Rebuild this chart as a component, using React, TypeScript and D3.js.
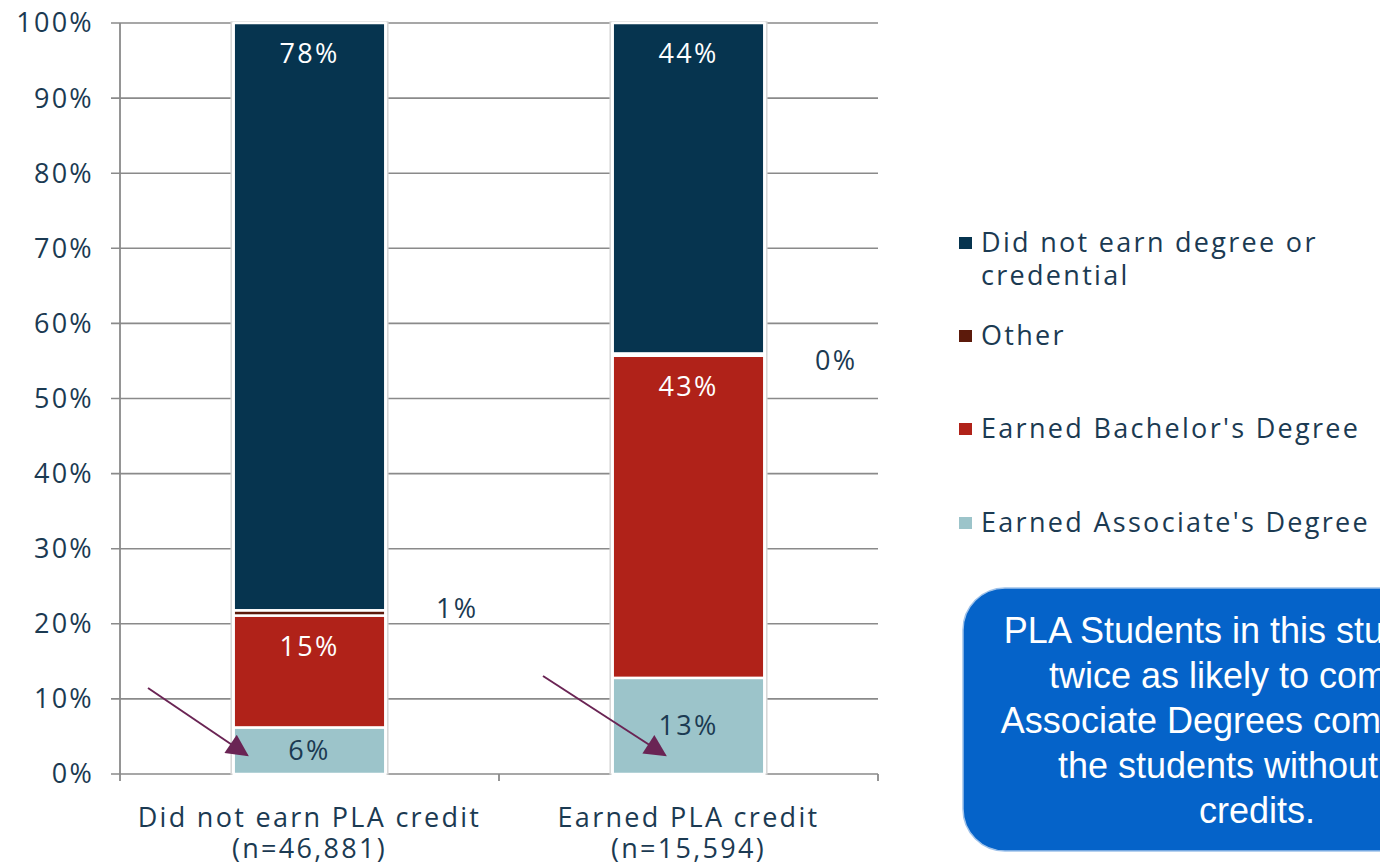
import React from "react";
import * as d3 from "d3";

const categories = ["Did not earn PLA credit", "Earned PLA credit"];
const categorySubLabels = ["(n=46,881)", "(n=15,594)"];
const seriesNames = [
  "Earned Associate's Degree",
  "Earned Bachelor's Degree",
  "Other",
  "Did not earn degree or credential",
];
const associateValues = [6.2, 12.8];
const bachelorValues = [14.9, 42.9];
const otherValues = [0.7, 0.3];
const notEarnedValues = [78.2, 44.0];
const valueLabels = [
  ["6%", "15%", "1%", "78%"],
  ["13%", "43%", "0%", "44%"],
];
const yTicks = [0, 10, 20, 30, 40, 50, 60, 70, 80, 90, 100];
const legendOrder = [3, 2, 1, 0];
const calloutLines = [
  "PLA Students in this study were",
  "twice as likely to complete",
  "Associate Degrees compared to",
  "the students without PLA",
  "credits.",
];

const colors = ["#9cc4ca", "#b02219", "#5c1a0b", "#06344f"];
const labelColors = ["#1b3a52", "#ffffff", "#1b3a52", "#ffffff"];
const textColor = "#1b3a52";
const font = "'Open Sans', 'DejaVu Sans', sans-serif";
const FS = 27;
const LS = 2.3;

export default function App() {
  const W = 1380;
  const H = 866;
  const x0 = 120;
  const x1 = 878;
  const y = d3.scaleLinear().domain([0, 100]).range([774, 23]);
  const x = d3
    .scaleBand<string>()
    .domain(categories)
    .range([x0, x1])
    .paddingInner(0.6)
    .paddingOuter(0.3);

  const rows = categories.map((c, i) => ({
    cat: c,
    v0: associateValues[i],
    v1: bachelorValues[i],
    v2: otherValues[i],
    v3: notEarnedValues[i],
  }));
  const stack = d3.stack<any>().keys(["v0", "v1", "v2", "v3"]);
  const series = stack(rows);
  const bw = x.bandwidth();

  const legendY = [252, 345, 438, 532];

  return (
    <svg
      width={W}
      height={H}
      style={{ position: "absolute", left: 0, top: 0, background: "#fff" }}
      fontFamily={font}
    >
      {yTicks.map((t) => (
        <line
          key={"g" + t}
          x1={111}
          x2={x1}
          y1={y(t)}
          y2={y(t)}
          stroke="#8a8a8a"
          strokeWidth={1.6}
        />
      ))}
      <line x1={x0} x2={x0} y1={y(100)} y2={y(0)} stroke="#8a8a8a" strokeWidth={1.8} />
      {[x0, (x0 + x1) / 2, x1].map((t, i) => (
        <line key={"xt" + i} x1={t} x2={t} y1={y(0)} y2={y(0) + 7} stroke="#8a8a8a" strokeWidth={1.8} />
      ))}
      {yTicks.map((t) => (
        <text
          key={"yl" + t}
          x={94}
          y={y(t)}
          dy="0.35em"
          textAnchor="end"
          fontSize={FS}
          letterSpacing={LS}
          fill={textColor}
        >
          {t + "%"}
        </text>
      ))}
      {categories.map((c) => (
        <rect
          key={"sh" + c}
          x={(x(c) as number) - 2.5}
          y={y(100) - 1}
          width={bw + 5}
          height={y(0) - y(100) + 1}
          fill="#ffffff"
          stroke="#d6d6d6"
          strokeWidth={1.5}
        />
      ))}
      {series.map((s, si) =>
        s.map((d, di) => {
          const c = categories[di];
          const top = y(d[1]);
          const bot = y(d[0]);
          return (
            <rect
              key={si + "-" + di}
              x={x(c)}
              y={top}
              width={bw}
              height={Math.max(0, bot - top)}
              fill={colors[si]}
              stroke="#ffffff"
              strokeWidth={2.5}
            />
          );
        })
      )}
      {series.map((s, si) =>
        s.map((d, di) => {
          const c = categories[di];
          const top = y(d[1]);
          const bot = y(d[0]);
          const h = bot - top;
          const label = valueLabels[di][si];
          if (si === 2) {
            return (
              <text
                key={"vl" + si + di}
                x={(x(c) as number) + bw + 72}
                y={(top + bot) / 2 + (di === 0 ? -4 : 6)}
                dy="0.35em"
                textAnchor="middle"
                fontSize={FS}
                letterSpacing={LS}
                fill={textColor}
              >
                {label}
              </text>
            );
          }
          const cy = h < 100 ? (top + bot) / 2 : top + 31;
          return (
            <text
              key={"vl" + si + di}
              x={(x(c) as number) + bw / 2}
              y={cy}
              dy="0.35em"
              textAnchor="middle"
              fontSize={FS}
              letterSpacing={LS}
              fill={labelColors[si]}
            >
              {label}
            </text>
          );
        })
      )}
      {categories.map((c, i) => (
        <g key={"xl" + c}>
          <text
            x={(x(c) as number) + bw / 2}
            y={827}
            textAnchor="middle"
            fontSize={FS}
            letterSpacing={LS}
            fill={textColor}
          >
            {c}
          </text>
          <text
            x={(x(c) as number) + bw / 2}
            y={858}
            textAnchor="middle"
            fontSize={FS}
            letterSpacing={LS}
            fill={textColor}
          >
            {categorySubLabels[i]}
          </text>
        </g>
      ))}
      <defs>
        <marker
          id="ah2"
          viewBox="0 0 10 10"
          refX={9}
          refY={5}
          markerWidth={24}
          markerHeight={22}
          orient="auto"
          markerUnits="userSpaceOnUse"
        >
          <path d="M0,0 L10,5 L0,10 z" fill="#6a2454" />
        </marker>
      </defs>
      <line x1={148} y1={688} x2={247} y2={755} stroke="#6a2454" strokeWidth={2} markerEnd="url(#ah2)" />
      <line x1={543} y1={676} x2={665} y2={755} stroke="#6a2454" strokeWidth={2} markerEnd="url(#ah2)" />
      {legendOrder.map((si, i) => {
        const name = seriesNames[si];
        const lines = si === 3 ? ["Did not earn degree or", "credential"] : [name];
        return (
          <g key={"lg" + si}>
            <rect x={959} y={legendY[i] - 15} width={13} height={12} fill={colors[si]} />
            {lines.map((ln, li) => (
              <text
                key={li}
                x={981}
                y={legendY[i] + li * 33}
                fontSize={FS}
                letterSpacing={LS}
                fill={textColor}
              >
                {ln}
              </text>
            ))}
          </g>
        );
      })}
      <rect
        x={963}
        y={588}
        width={600}
        height={263}
        rx={42}
        ry={42}
        fill="#0563c9"
        stroke="#9fc2ea"
        strokeWidth={1.5}
      />
      {calloutLines.map((ln, i) => (
        <text
          key={"cl" + i}
          x={1257}
          y={643 + i * 45}
          textAnchor="middle"
          fontSize={36}
          fontFamily="'Liberation Sans', Arial, sans-serif"
          fill="#ffffff"
        >
          {ln}
        </text>
      ))}
    </svg>
  );
}
